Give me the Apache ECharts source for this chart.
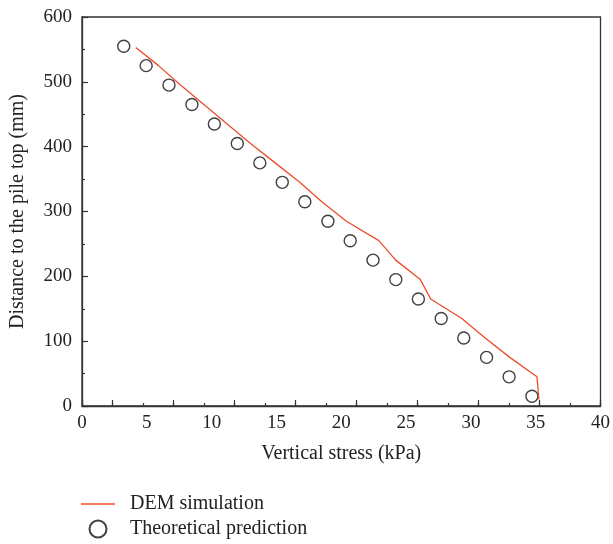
<!DOCTYPE html>
<html>
<head>
<meta charset="utf-8">
<script src="https://cdn.jsdelivr.net/npm/echarts@6/dist/echarts.min.js"></script>
<style>
    html, body { margin: 0; padding: 0; background: #fff; }
    #main { width: 613px; height: 544px; }
</style>
</head>
<body>
<div id="main"></div>
<script>
// DEM simulation (red line)
var demStress = [4.15, 5.9, 7.6, 9.4, 11.2, 13.0, 14.9, 16.8, 18.5, 20.4, 22.9, 24.2, 26.1, 26.9, 29.3, 31.1, 33.0, 35.1, 35.25]
var demDepth = [553, 525, 495, 465, 435, 405, 375, 345, 315, 285, 255, 225, 195, 165, 135, 105, 75, 45, 10]

// Theoretical prediction (circles)
var theoStress = [3.22, 4.95, 6.71, 8.48, 10.21, 11.98, 13.72, 15.45, 17.19, 18.97, 20.69, 22.45, 24.21, 25.95, 27.71, 29.45, 31.21, 32.95, 34.71]
var theoDepth = [555, 525, 495, 465, 435, 405, 375, 345, 315, 285, 255, 225, 195, 165, 135, 105, 75, 45, 15]

var font = 'Liberation Serif'

function zip(xs, ys) {
    return xs.map(function (x, i) { return [x, ys[i]] })
}

var legendText = {
    fontFamily: font,
    fontSize: 20,
    color: '#222',
    padding: [0, 0, 0, 10]
}

let myChart = echarts.init(document.getElementById('main'))
myChart.setOption({
    animation: false,
    grid: {
        left: 81,
        right: 11,
        top: 17,
        bottom: 138,
        show: true,
        borderColor: '#333',
        borderWidth: 1.3
    },
    legend: [
        {
            left: 81,
            top: 494,
            padding: 0,
            itemWidth: 34,
            itemHeight: 1.5,
            icon: 'rect',
            textStyle: legendText,
            data: ['DEM simulation']
        },
        {
            left: 88.5,
            top: 519,
            padding: 0,
            itemWidth: 34,
            itemHeight: 17,
            icon: 'circle',
            textStyle: legendText,
            data: ['Theoretical prediction']
        }
    ],
    xAxis: [
        {
            type: 'value',
            min: 0,
            max: 40,
            interval: 5,
            name: 'Vertical stress (kPa)',
            nameLocation: 'middle',
            nameGap: 38,
            nameTextStyle: { fontFamily: font, fontSize: 20, color: '#222' },
            axisLine: { lineStyle: { color: '#333', width: 1.3 } },
            axisTick: { show: false },
            axisLabel: { fontFamily: font, fontSize: 19, color: '#222', margin: 8 },
            splitLine: { show: false }
        },
        {
            // short tick marks along the bottom
            type: 'value',
            position: 'bottom',
            min: 0,
            max: 17,
            interval: 1,
            axisLine: { show: false },
            axisTick: { inside: true, length: 3, lineStyle: { color: '#333', width: 1.2 } },
            axisLabel: { show: false },
            splitLine: { show: false }
        },
        {
            // longer tick marks on alternate positions
            type: 'value',
            position: 'bottom',
            inverse: true,
            min: 0,
            max: 17,
            interval: 2,
            axisLine: { show: false },
            axisTick: { inside: true, length: 6, lineStyle: { color: '#333', width: 1.2 } },
            axisLabel: { show: false },
            splitLine: { show: false }
        }
    ],
    yAxis: {
        type: 'value',
        min: 0,
        max: 600,
        interval: 100,
        name: 'Distance to the pile top (mm)',
        nameLocation: 'middle',
        nameGap: 54,
        nameTextStyle: { fontFamily: font, fontSize: 20, color: '#222' },
        axisLine: { lineStyle: { color: '#333', width: 1.3 } },
        axisTick: { inside: true, length: 6, lineStyle: { color: '#333', width: 1.2 } },
        minorTick: { show: true, splitNumber: 2, length: 3, lineStyle: { color: '#333', width: 1.2 } },
        axisLabel: { fontFamily: font, fontSize: 19, color: '#222', margin: 10 },
        splitLine: { show: false }
    },
    series: [
        {
            name: 'DEM simulation',
            type: 'line',
            xAxisIndex: 0,
            symbol: 'none',
            color: '#ee4b2b',
            lineStyle: { color: '#ee4b2b', width: 1.3 },
            data: zip(demStress, demDepth)
        },
        {
            name: 'Theoretical prediction',
            type: 'scatter',
            xAxisIndex: 0,
            symbol: 'circle',
            symbolSize: 12,
            itemStyle: { color: '#fff', borderColor: '#111', borderWidth: 1.4 },
            data: zip(theoStress, theoDepth)
        }
    ]
})
</script>
</body>
</html>
